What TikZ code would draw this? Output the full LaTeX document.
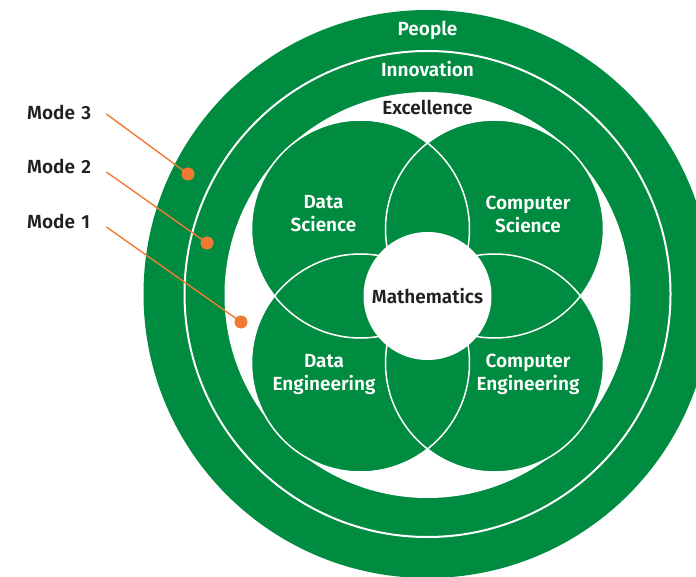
\documentclass[tikz,border=0pt]{standalone}
\usepackage{fontspec}
\setmainfont{Fira Sans}[UprightFont=* SemiBold]
\definecolor{brandgreen}{RGB}{0,140,64}
\definecolor{modeorange}{RGB}{240,122,52}
\definecolor{inkdark}{RGB}{35,31,32}
\pgfdeclarelayer{rings}
\pgfdeclarelayer{callouts}
\pgfsetlayers{rings,callouts,main}
\begin{document}
\begin{tikzpicture}[x=1pt,y=-1pt,
  labeltext/.style={font=\fontsize{19}{23}\selectfont,inner sep=0pt},
  ringlabel/.style={labeltext,text=white,anchor=base},
  fieldlabel/.style={labeltext,text=white,align=center},
  fieldcircle/.style={circle,fill=brandgreen,minimum size=218pt,inner sep=0pt},
  fieldedge/.style={white,line width=1.5pt},
  modelabel/.style={labeltext,text=inkdark,anchor=west,text width=67pt,align=left},
  modedot/.style={circle,fill=modeorange,minimum size=13pt,inner sep=0pt},
  modeline/.style={modeorange,line width=1.4pt}]
\useasboundingbox (0,0) rectangle (696,577);

% concentric rings: People, Innovation, Excellence
\begin{pgfonlayer}{rings}
\begin{scope}
  \clip (0,0) rectangle (696,577);
  \coordinate (hub) at (427.5,294);
  \fill[brandgreen] (hub) circle[radius=284];
  \draw[white,line width=2pt] (hub) circle[radius=243];
  \fill[white] (427.5,295) circle[radius=203];
\end{scope}
\end{pgfonlayer}

\node[ringlabel] (people) at (427.5,36) {People};
\node[ringlabel] (innovation) at (427.5,77) {Innovation};
\node[ringlabel,text=inkdark] (excellence) at (427.5,115) {Excellence};

% four overlapping fields
\node[fieldcircle] (ds) at (360.5,229) {};
\node[fieldcircle] (cs) at (494.5,229) {};
\node[fieldcircle] (de) at (360.5,363) {};
\node[fieldcircle] (ce) at (494.5,363) {};
\foreach \c in {ds,cs,de,ce}
  \draw[fieldedge] (\c.center) circle[radius=109];

\node[circle,fill=white,minimum size=128pt,inner sep=0pt,labeltext,text=inkdark] (math) at (427.5,296) {Mathematics};

\node[fieldlabel] (dslabel) at (323.5,214) {Data\\Science};
\node[fieldlabel] (cslabel) at (528,214) {Computer\\Science};
\node[fieldlabel] (delabel) at (324,374.5) {Data\\Engineering};
\node[fieldlabel] (celabel) at (528,374.5) {Computer\\Engineering};

% mode callouts
\node[modelabel] (m3) at (27,112) {Mode 3};
\node[modelabel] (m2) at (27,166) {Mode 2};
\node[modelabel] (m1) at (27,221) {Mode 1};
\node[modedot] (d3) at (188,174) {};
\node[modedot] (d2) at (207,243) {};
\node[modedot] (d1) at (241,322) {};
\begin{pgfonlayer}{callouts}
\draw[modeline] ([xshift=12pt,yshift=-2pt]m3.east) -- (d3.center);
\draw[modeline] ([xshift=12pt,yshift=-6pt]m2.east) -- (d2.center);
\draw[modeline] ([xshift=12pt,yshift=-6pt]m1.east) -- (d1.center);
\end{pgfonlayer}
\end{tikzpicture}
\end{document}
